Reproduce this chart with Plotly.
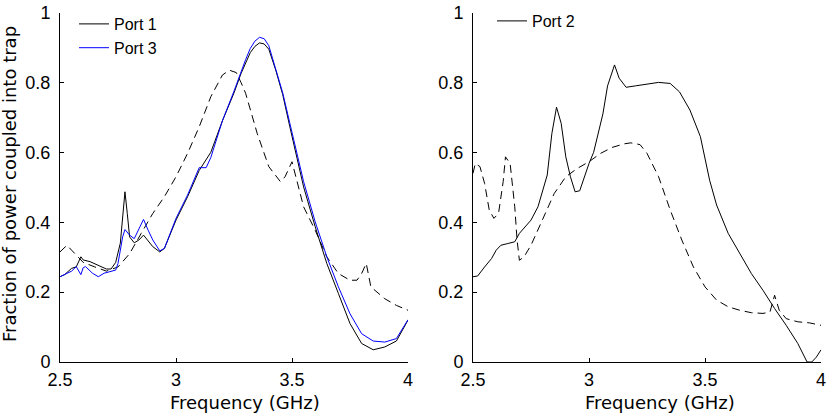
import plotly.graph_objects as go

# ---------------- Data ----------------
# Left panel: Port 1 (black solid)
p1_f = [2.50, 2.52, 2.55, 2.57, 2.59, 2.60, 2.63, 2.66, 2.70, 2.72, 2.74, 2.76, 2.77, 2.78, 2.79, 2.80,
        2.82, 2.84, 2.86, 2.88, 2.90, 2.93, 2.95, 3.00, 3.05, 3.10, 3.15, 3.20, 3.25, 3.28, 3.30, 3.32,
        3.34, 3.36, 3.38, 3.40, 3.43, 3.46, 3.49, 3.52, 3.55, 3.60, 3.65, 3.70, 3.75, 3.80, 3.85, 3.90,
        3.95, 4.00]
p1_v = [0.244, 0.250, 0.268, 0.272, 0.301, 0.292, 0.287, 0.277, 0.266, 0.266, 0.285, 0.340, 0.425, 0.487, 0.425, 0.358,
        0.341, 0.349, 0.363, 0.347, 0.330, 0.315, 0.325, 0.406, 0.473, 0.548, 0.600, 0.690, 0.770, 0.825, 0.855, 0.885,
        0.903, 0.913, 0.910, 0.895, 0.835, 0.765, 0.675, 0.585, 0.501, 0.387, 0.282, 0.196, 0.110, 0.053, 0.035, 0.043,
        0.060, 0.120]

# Left panel: Port 3 (blue solid)
p3_f = [2.50, 2.52, 2.55, 2.57, 2.59, 2.60, 2.61, 2.64, 2.665, 2.69, 2.74, 2.75, 2.77, 2.78, 2.80, 2.82,
        2.86, 2.88, 2.90, 2.93, 2.95, 3.00, 3.05, 3.10, 3.13, 3.15, 3.20, 3.25, 3.28, 3.30, 3.32, 3.34,
        3.36, 3.38, 3.40, 3.43, 3.46, 3.49, 3.52, 3.55, 3.60, 3.65, 3.70, 3.75, 3.80, 3.85, 3.90, 3.95,
        4.00]
p3_v = [0.244, 0.250, 0.260, 0.273, 0.250, 0.270, 0.273, 0.254, 0.244, 0.254, 0.263, 0.282, 0.358, 0.379, 0.363, 0.353,
        0.408, 0.377, 0.349, 0.318, 0.325, 0.411, 0.478, 0.556, 0.556, 0.585, 0.690, 0.775, 0.830, 0.865, 0.897, 0.918,
        0.929, 0.925, 0.905, 0.840, 0.770, 0.685, 0.600, 0.516, 0.401, 0.301, 0.215, 0.138, 0.081, 0.060, 0.057, 0.067,
        0.121]

# Left panel: dashed reference curve
d1_f = [2.50, 2.53, 2.55, 2.60, 2.65, 2.70, 2.75, 2.80, 2.85, 2.90, 2.95, 3.00, 3.05, 3.10, 3.15, 3.20,
        3.23, 3.26, 3.28, 3.30, 3.35, 3.40, 3.45, 3.47, 3.50, 3.52, 3.55, 3.60, 3.65, 3.70, 3.75, 3.78,
        3.80, 3.82, 3.84, 3.90, 3.95, 4.00]
d1_v = [0.315, 0.334, 0.320, 0.285, 0.272, 0.260, 0.272, 0.310, 0.368, 0.425, 0.473, 0.530, 0.597, 0.673, 0.759, 0.821,
        0.835, 0.828, 0.800, 0.769, 0.654, 0.559, 0.516, 0.530, 0.573, 0.520, 0.444, 0.377, 0.301, 0.253, 0.234, 0.234,
        0.253, 0.282, 0.215, 0.181, 0.162, 0.148]

# Right panel: Port 2 (black solid)
p2_f = [2.50, 2.52, 2.55, 2.58, 2.60, 2.62, 2.65, 2.68, 2.70, 2.75, 2.78, 2.80, 2.82, 2.84, 2.86, 2.88,
        2.90, 2.92, 2.94, 2.96, 3.00, 3.02, 3.06, 3.08, 3.11, 3.13, 3.16, 3.20, 3.25, 3.30, 3.35, 3.39,
        3.435, 3.48, 3.52, 3.55, 3.60, 3.65, 3.70, 3.75, 3.80, 3.85, 3.90, 3.94, 3.96, 3.98, 4.00]
p2_v = [0.244, 0.246, 0.272, 0.296, 0.320, 0.334, 0.339, 0.344, 0.368, 0.406, 0.444, 0.487, 0.535, 0.654, 0.729, 0.683,
        0.587, 0.530, 0.487, 0.490, 0.568, 0.600, 0.710, 0.790, 0.850, 0.812, 0.786, 0.790, 0.795, 0.800, 0.797, 0.773,
        0.721, 0.645, 0.520, 0.449, 0.368, 0.310, 0.253, 0.205, 0.153, 0.105, 0.053, 0.000, 0.000, 0.014, 0.035]

# Right panel: dashed reference curve
d2_f = [2.50, 2.51, 2.53, 2.55, 2.57, 2.59, 2.61, 2.63, 2.64, 2.66, 2.68, 2.69, 2.70, 2.72, 2.75, 2.80,
        2.85, 2.90, 2.95, 3.00, 3.05, 3.10, 3.15, 3.18, 3.22, 3.25, 3.30, 3.35, 3.40, 3.45, 3.50, 3.55,
        3.60, 3.65, 3.70, 3.75, 3.78, 3.80, 3.82, 3.85, 3.90, 3.95, 4.00]
d2_v = [0.540, 0.568, 0.559, 0.511, 0.435, 0.411, 0.425, 0.516, 0.587, 0.568, 0.444, 0.349, 0.291, 0.301, 0.334, 0.406,
        0.482, 0.530, 0.554, 0.573, 0.597, 0.614, 0.624, 0.627, 0.622, 0.597, 0.530, 0.435, 0.349, 0.272, 0.215, 0.177,
        0.158, 0.148, 0.141, 0.139, 0.143, 0.191, 0.148, 0.124, 0.115, 0.112, 0.105]

x_ticks = [2.5, 3, 3.5, 4]
x_ticklabels = ["2.5", "3", "3.5", "4"]
y_ticks = [0, 0.2, 0.4, 0.6, 0.8, 1]
y_ticklabels = ["0", "0.2", "0.4", "0.6", "0.8", "1"]

# ---------------- Figure ----------------
W, H = 830, 413
TICK_FONT = dict(family="Liberation Sans, Arial, sans-serif", size=18, color="black")
TITLE_FONT = dict(family="DejaVu Sans, sans-serif", size=18, color="black")
LEG_FONT = dict(family="Liberation Sans, Arial, sans-serif", size=16, color="black")
DASH = "8px,5px"

fig = go.Figure()
fig.add_trace(go.Scatter(x=d1_f, y=d1_v, mode="lines", line=dict(color="black", width=1, dash=DASH),
                         showlegend=False, xaxis="x", yaxis="y"))
fig.add_trace(go.Scatter(x=p1_f, y=p1_v, mode="lines", name="Port 1", line=dict(color="black", width=1),
                         xaxis="x", yaxis="y", legend="legend"))
fig.add_trace(go.Scatter(x=p3_f, y=p3_v, mode="lines", name="Port 3", line=dict(color="#0000ff", width=1),
                         xaxis="x", yaxis="y", legend="legend"))
fig.add_trace(go.Scatter(x=d2_f, y=d2_v, mode="lines", line=dict(color="black", width=1, dash=DASH),
                         showlegend=False, xaxis="x2", yaxis="y2"))
fig.add_trace(go.Scatter(x=p2_f, y=p2_v, mode="lines", name="Port 2", line=dict(color="black", width=1),
                         xaxis="x2", yaxis="y2", legend="legend2"))

ydom = [(H - 362) / H, (H - 12.5) / H]
common_x = dict(range=[2.5, 4], tickvals=x_ticks, ticktext=x_ticklabels, ticks="inside", ticklen=4,
                tickcolor="black", showline=True, linecolor="black", linewidth=1, showgrid=False,
                zeroline=False, tickfont=TICK_FONT, mirror=False, automargin=False, ticklabelstandoff=1)
common_y = dict(range=[0, 1], tickvals=y_ticks, ticktext=y_ticklabels, ticks="inside", ticklen=4,
                tickcolor="black", showline=True, linecolor="black", linewidth=1, showgrid=False,
                zeroline=False, tickfont=TICK_FONT, domain=ydom, automargin=False, ticklabelstandoff=5)

legend_style = dict(font=LEG_FONT, bgcolor="rgba(0,0,0,0)", borderwidth=0, xanchor="left", yanchor="top",
                    tracegroupgap=0, itemwidth=30)

fig.update_layout(
    width=W, height=H,
    margin=dict(l=0, r=0, t=0, b=0, autoexpand=False),
    paper_bgcolor="white", plot_bgcolor="white",
    xaxis=dict(domain=[60 / W, 408 / W], anchor="y", **common_x),
    yaxis=dict(anchor="x", **common_y),
    xaxis2=dict(domain=[473 / W, 821 / W], anchor="y2", **common_x),
    yaxis2=dict(anchor="x2", **common_y),
    legend=dict(x=74 / W, y=1 - 7 / H, **legend_style),
    legend2=dict(x=492 / W, y=1 - 4 / H, **legend_style),
    annotations=[
        dict(text="Frequency (GHz)", x=245 / W, y=(H - 402) / H, xref="paper", yref="paper",
             showarrow=False, xanchor="center", yanchor="middle", font=TITLE_FONT),
        dict(text="Frequency (GHz)", x=660 / W, y=(H - 402) / H, xref="paper", yref="paper",
             showarrow=False, xanchor="center", yanchor="middle", font=TITLE_FONT),
        dict(text="Fraction of power coupled into trap", x=9 / W, y=(H - 184) / H, xref="paper", yref="paper",
             showarrow=False, xanchor="center", yanchor="middle", textangle=-90, font=TITLE_FONT),
    ],
)

fig.write_html("out.html", config={"displayModeBar": False},
               post_script="document.body.style.margin='0';document.body.style.overflow='hidden';")
